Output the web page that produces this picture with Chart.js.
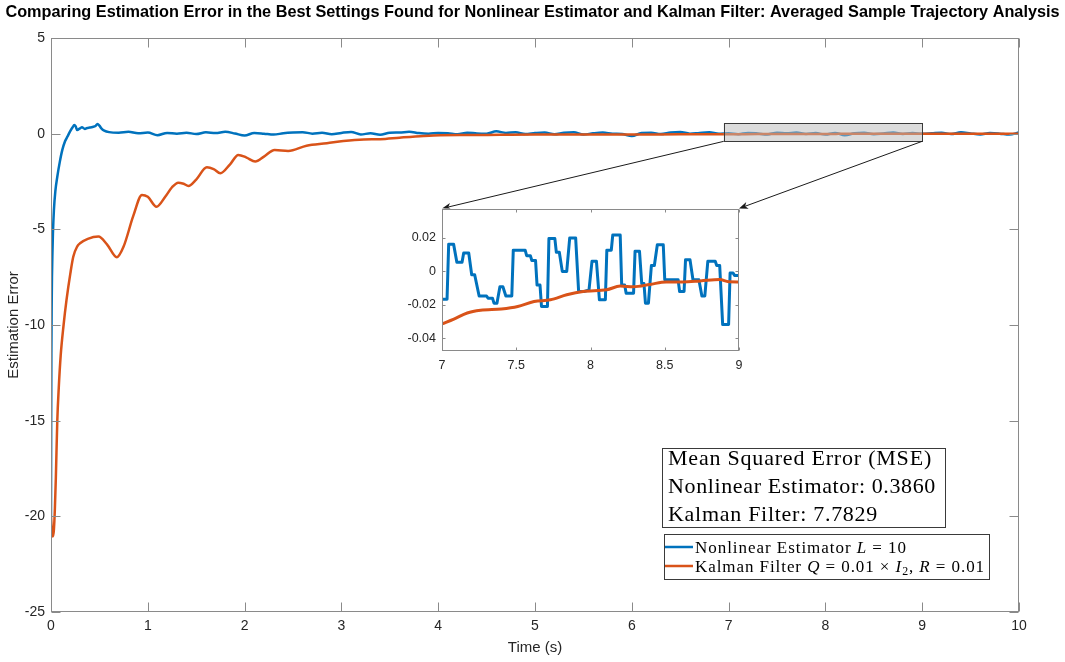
<!DOCTYPE html>
<html><head><meta charset="utf-8">
<script src="https://cdn.jsdelivr.net/npm/chart.js@4/dist/chart.umd.min.js"></script>
<style>
html,body{margin:0;padding:0;background:#fff;}
#wrap{position:relative;width:1065px;height:662px;overflow:hidden;}
#main{position:absolute;left:0;top:0;}
#inset{position:absolute;left:395px;top:195px;}
</style></head><body>
<div id="wrap"><canvas id="main" width="1065" height="662"></canvas><canvas id="inset" width="355" height="185"></canvas></div>
<script>
// ---------------- data ----------------
const TITLE = 'Comparing Estimation Error in the Best Settings Found for Nonlinear Estimator and Kalman Filter: Averaged Sample Trajectory Analysis';
const xTickValues = [0,1,2,3,4,5,6,7,8,9,10];
const xTickLabels = ['0','1','2','3','4','5','6','7','8','9','10'];
const yTickValues = [5,0,-5,-10,-15,-20,-25];
const yTickLabels = ['5','0','-5','-10','-15','-20','-25'];
const insetXTickValues = [7,7.5,8,8.5,9];
const insetXTickLabels = ['7','7.5','8','8.5','9'];
const insetYTickValues = [0.02,0,-0.02,-0.04];
const insetYTickLabels = ['0.02','0','-0.02','-0.04'];

// Nonlinear estimator (blue), transient part
const blueHeadT = [0,0.002,0.004,0.007,0.01,0.015,0.02,0.03,0.045,0.065,0.09,0.117,0.145,0.17,0.2,0.225,0.24,0.255,0.27,0.3,0.32,0.35,0.375,0.4,0.43,0.46,0.48,0.5,0.52,0.55];
const blueHead  = [-20,-15,-11.5,-9,-7.5,-6.2,-5.2,-4.0,-3.0,-2.25,-1.5,-0.85,-0.4,-0.15,0.15,0.35,0.45,0.38,0.19,0.28,0.33,0.25,0.3,0.32,0.35,0.4,0.5,0.42,0.28,0.16];
// Nonlinear estimator (blue), steady part sampled every 0.1 s from 0.6 s
const blueTail = [
 0.08,0.05,0.10,0.02,0.06,-0.08,0.04,0.00,0.05,-0.02,
 0.07,0.03,0.10,0.01,-0.10,0.04,0.00,-0.05,0.02,0.06,
 0.08,0.00,0.05,-0.03,0.04,0.09,-0.04,0.02,-0.06,0.05,
 0.06,0.10,0.03,0.00,0.04,0.02,-0.03,0.05,0.01,0.00,
 0.12,0.04,0.07,-0.02,0.03,0.06,-0.03,0.05,0.08,-0.05,
 0.02,0.06,0.00,-0.02,-0.12,0.03,0.05,-0.02,0.06,0.09,
 0.00,0.04,0.07,0.00,0.02,-0.03,0.04,0.01,-0.04,0.05,
 0.02,0.06,-0.02,0.03,-0.05,0.04,-0.08,0.02,0.05,-0.03,
 0.01,0.06,-0.02,0.03,-0.01,0.02,0.05,-0.02,0.07,0.01,
 -0.04,0.03,0.00,-0.05,0.06];
const blueTailStart = 0.6, blueTailStep = 0.1;

// Kalman filter (orange)
const kalmanT = [0,0.01,0.02,0.03,0.04,0.05,0.065,0.08,0.1,0.13,0.16,0.2,0.23,0.27,0.3,0.38,0.49,0.58,0.68,0.75,0.85,0.94,1.0,1.09,1.18,1.25,1.315,1.37,1.42,1.5,1.61,1.68,1.75,1.85,1.935,2.02,2.11,2.2,2.31,2.45,2.64,2.85,3.02,3.23,3.4,3.6,3.85,4.02,4.3,4.64,5,5.5,6,6.5,7,7.17,7.4,7.62,7.84,8.11,8.4,8.62,8.87,9,9.5,10];
const kalmanErr = [-20,-20.8,-21.05,-20.7,-19.6,-18,-15,-13.3,-11.6,-10,-8.7,-7.3,-6.43,-5.9,-5.73,-5.5,-5.38,-5.8,-6.46,-5.9,-4.3,-3.2,-3.3,-3.82,-3.3,-2.8,-2.56,-2.62,-2.73,-2.4,-1.76,-1.85,-2.07,-1.6,-1.11,-1.25,-1.46,-1.2,-0.85,-0.9,-0.63,-0.5,-0.38,-0.3,-0.29,-0.21,-0.12,-0.08,-0.07,-0.06,-0.05,-0.045,-0.04,-0.035,-0.031,-0.025,-0.0225,-0.018,-0.014,-0.011,-0.0078,-0.0063,-0.0049,-0.0063,-0.004,-0.003];

// Inset (7 s to 9 s)
const insetBlueT = [7.000,7.034,7.045,7.078,7.100,7.135,7.146,7.180,7.200,7.220,7.250,7.300,7.310,7.340,7.350,7.370,7.390,7.410,7.430,7.470,7.480,7.560,7.570,7.595,7.605,7.630,7.640,7.660,7.670,7.710,7.720,7.760,7.770,7.790,7.810,7.840,7.860,7.900,7.920,7.960,7.990,8.010,8.040,8.060,8.100,8.110,8.140,8.150,8.200,8.210,8.230,8.240,8.290,8.300,8.330,8.345,8.360,8.370,8.390,8.410,8.430,8.450,8.490,8.500,8.590,8.600,8.630,8.640,8.670,8.690,8.730,8.750,8.770,8.790,8.840,8.850,8.870,8.890,8.930,8.940,8.960,8.970,9.000];
const insetBlue  = [-0.0167,-0.0167,0.0163,0.0163,0.0055,0.0055,0.0110,0.0110,-0.0020,-0.0020,-0.0147,-0.0147,-0.0160,-0.0160,-0.0190,-0.0190,-0.0092,-0.0092,-0.0147,-0.0147,0.0127,0.0127,0.0094,0.0094,0.0065,0.0065,-0.0082,-0.0082,-0.0210,-0.0210,0.0196,0.0196,0.0114,0.0114,0.0000,0.0000,0.0200,0.0200,-0.0120,-0.0120,-0.0110,0.0060,0.0060,-0.0170,-0.0170,0.0127,0.0127,0.0218,0.0218,-0.0082,-0.0082,-0.0130,-0.0130,0.0120,0.0120,-0.0073,-0.0073,-0.0190,-0.0190,0.0035,0.0035,0.0159,0.0159,-0.0050,-0.0050,-0.0120,-0.0120,0.0070,0.0070,-0.0050,-0.0050,-0.0147,-0.0147,0.0060,0.0060,0.0035,0.0035,-0.0318,-0.0318,-0.0010,-0.0010,-0.0024,-0.0024];
const insetKalmanT = [7.0,7.08,7.17,7.26,7.40,7.51,7.62,7.73,7.84,7.95,8.11,8.2,8.29,8.40,8.51,8.62,8.74,8.87,8.93,9.0];
const insetKalman  = [-0.0314,-0.0285,-0.0249,-0.0233,-0.0225,-0.021,-0.018,-0.017,-0.014,-0.012,-0.011,-0.0088,-0.0092,-0.0078,-0.0063,-0.0063,-0.0057,-0.0049,-0.0062,-0.0063];

const mseTitle = 'Mean Squared Error (MSE)';
const mseNames = ['Nonlinear Estimator', 'Kalman Filter'];
const mseValues = ['0.3860', '7.7829'];

// ---------------- style ----------------
const SANS = '"Liberation Sans", Arial, Helvetica, sans-serif';
const SERIF = '"Liberation Serif", "Times New Roman", serif';
const BLUE = '#0072BD', ORANGE = '#D95319';
const AXIS_COLOR = '#8a8a8a', TEXT_COLOR = '#262626';
const zoomBox = {x0: 6.95, x1: 9, yLow: -0.4, yHigh: 0.55};

function fitSize(text, weight, family, target, base) {
  const c = document.createElement('canvas').getContext('2d');
  c.font = weight + ' ' + base + 'px ' + family;
  return base * target / c.measureText(text).width;
}
const titleSize = fitSize(TITLE, 'bold', SANS, 1055, 15);

const pts = (xs, ys) => xs.map((t, i) => ({x: t, y: ys[i]}));
const blueAllT = blueHeadT.concat(blueTail.map((_, i) => Math.round((blueTailStart + blueTailStep * i) * 100) / 100));
const blueAll = blueHead.concat(blueTail);

function segFont(s, size) {
  return (s.it ? 'italic ' : '') + (s.sub ? size * 0.7 : size) + 'px ' + SERIF;
}
function drawRich(ctx, segs, x, yBase, size, target) {
  ctx.letterSpacing = '0px';
  let w0 = 0, n = 0;
  for (const s of segs) { ctx.font = segFont(s, size); w0 += ctx.measureText(s.t).width; n += s.t.length; }
  const ls = target ? (target - w0) / n : 0;
  let cx = x;
  ctx.textBaseline = 'alphabetic'; ctx.textAlign = 'left';
  for (const s of segs) {
    ctx.font = segFont(s, size);
    ctx.letterSpacing = '0px';
    const w = ctx.measureText(s.t).width;
    ctx.letterSpacing = ls + 'px';
    ctx.fillText(s.t, cx, yBase + (s.sub ? size * 0.22 : 0));
    cx += w + ls * s.t.length;
  }
  ctx.letterSpacing = '0px';
}
function drawArrow(ctx, x0, y0, x1, y1) {
  const a = Math.atan2(y1 - y0, x1 - x0), c = Math.cos(a), s = Math.sin(a);
  const L = 9, W = 3.5, N = 6.5;
  ctx.strokeStyle = '#1a1a1a'; ctx.fillStyle = '#1a1a1a'; ctx.lineWidth = 1;
  ctx.beginPath(); ctx.moveTo(x0, y0); ctx.lineTo(x1 - N * c, y1 - N * s); ctx.stroke();
  ctx.beginPath();
  ctx.moveTo(x1, y1);
  ctx.lineTo(x1 - L * c + W * s, y1 - L * s - W * c);
  ctx.lineTo(x1 - N * c, y1 - N * s);
  ctx.lineTo(x1 - L * c - W * s, y1 - L * s + W * c);
  ctx.closePath(); ctx.fill();
}
function drawFrame(chart, tickLen, xVals, yVals) {
  const {ctx, chartArea: a, scales: {x, y}} = chart;
  ctx.save();
  ctx.strokeStyle = AXIS_COLOR; ctx.lineWidth = 1;
  const L = Math.round(a.left) + 0.5, R = Math.round(a.right) - 0.5, T = Math.round(a.top) + 0.5, B = Math.round(a.bottom) - 0.5;
  ctx.strokeRect(L, T, R - L, B - T);
  ctx.beginPath();
  for (const v of xVals) {
    const px = Math.round(x.getPixelForValue(v)) + 0.5;
    ctx.moveTo(px, B); ctx.lineTo(px, B - tickLen);
    ctx.moveTo(px, T); ctx.lineTo(px, T + tickLen);
  }
  for (const v of yVals) {
    const py = Math.round(y.getPixelForValue(v)) + 0.5;
    ctx.moveTo(L, py); ctx.lineTo(L + tickLen, py);
    ctx.moveTo(R, py); ctx.lineTo(R - tickLen, py);
  }
  ctx.stroke();
  ctx.restore();
}

Chart.defaults.font.family = SANS;
Chart.defaults.color = TEXT_COLOR;

// ---------------- inset chart ----------------
const insetCanvas = document.getElementById('inset');
const insetDecor = {
  id: 'insetDecor',
  beforeDatasetsDraw(chart) {
    const {ctx, chartArea: a} = chart;
    ctx.save(); ctx.fillStyle = '#fff'; ctx.fillRect(a.left, a.top, a.right - a.left, a.bottom - a.top); ctx.restore();
  },
  afterDraw(chart) { drawFrame(chart, 3, insetXTickValues, insetYTickValues); }
};
const insetChart = new Chart(insetCanvas, {
  type: 'line',
  data: {datasets: [
    {label: 'Kalman Filter', data: pts(insetKalmanT, insetKalman), borderColor: ORANGE, borderWidth: 3, pointRadius: 0, cubicInterpolationMode: 'monotone', order: 0},
    {label: 'Nonlinear Estimator', data: pts(insetBlueT, insetBlue), borderColor: BLUE, borderWidth: 3, pointRadius: 0, tension: 0, borderJoinStyle: 'round', order: 1}
  ]},
  options: {
    responsive: false, animation: false, events: [],
    layout: {padding: {left: 0, top: 12, right: 11, bottom: 0}},
    plugins: {legend: {display: false}, tooltip: {enabled: false}, title: {display: false}},
    scales: {
      x: {type: 'linear', min: 7, max: 9,
          afterBuildTicks: s => { s.ticks = insetXTickValues.map(v => ({value: v})); },
          ticks: {font: {size: 12.5}, color: TEXT_COLOR, padding: 7, maxRotation: 0, autoSkip: false,
                  callback: v => insetXTickLabels[insetXTickValues.indexOf(v)]},
          grid: {display: false, drawTicks: false}, border: {display: false},
          afterFit: s => { s.height = 29; }},
      y: {type: 'linear', min: -0.0476, max: 0.0376,
          afterBuildTicks: s => { s.ticks = insetYTickValues.map(v => ({value: v})); },
          ticks: {font: {size: 12.5}, color: TEXT_COLOR, padding: 6, autoSkip: false,
                  callback: v => insetYTickLabels[insetYTickValues.indexOf(v)]},
          grid: {display: false, drawTicks: false}, border: {display: false},
          afterFit: s => { s.width = 47; }}
    }
  },
  plugins: [insetDecor]
});

// ---------------- main chart ----------------
const mainDecor = {
  id: 'mainDecor',
  afterDatasetsDraw(chart) {
    const {ctx, scales: {x, y}} = chart;
    const rx0 = x.getPixelForValue(zoomBox.x0), rx1 = x.getPixelForValue(zoomBox.x1);
    const ry0 = y.getPixelForValue(zoomBox.yHigh), ry1 = y.getPixelForValue(zoomBox.yLow);
    ctx.save();
    ctx.fillStyle = 'rgba(185,185,185,0.5)';
    ctx.fillRect(rx0, ry0, rx1 - rx0, ry1 - ry0);
    ctx.strokeStyle = '#3a3a3a'; ctx.lineWidth = 1;
    ctx.strokeRect(Math.round(rx0) + 0.5, Math.round(ry0) + 0.5, Math.round(rx1 - rx0), Math.round(ry1 - ry0));
    const ia = insetChart.chartArea, ox = insetCanvas.offsetLeft, oy = insetCanvas.offsetTop;
    drawArrow(ctx, rx0, ry1, ox + ia.left, oy + ia.top);
    drawArrow(ctx, rx1, ry1, ox + ia.right, oy + ia.top);
    ctx.restore();
  },
  afterDraw(chart) {
    const ctx = chart.ctx;
    drawFrame(chart, 9, xTickValues, yTickValues);
    ctx.save();
    // MSE annotation box
    ctx.fillStyle = '#fff'; ctx.strokeStyle = '#3a3a3a'; ctx.lineWidth = 1;
    ctx.fillRect(662, 448, 283, 79); ctx.strokeRect(662.5, 448.5, 283, 79);
    ctx.fillStyle = '#000';
    drawRich(ctx, [{t: mseTitle}], 668, 465, 22, 264);
    drawRich(ctx, [{t: mseNames[0] + ': ' + mseValues[0]}], 668, 493, 22, 268);
    drawRich(ctx, [{t: mseNames[1] + ': ' + mseValues[1]}], 668, 520.5, 22, 210);
    // legend
    ctx.fillStyle = '#fff';
    ctx.fillRect(664, 534, 325, 45); ctx.strokeRect(664.5, 534.5, 325, 45);
    ctx.lineWidth = 2.5;
    ctx.strokeStyle = BLUE; ctx.beginPath(); ctx.moveTo(665, 547); ctx.lineTo(693, 547); ctx.stroke();
    ctx.strokeStyle = ORANGE; ctx.beginPath(); ctx.moveTo(665, 566); ctx.lineTo(693, 566); ctx.stroke();
    ctx.fillStyle = '#000';
    drawRich(ctx, [{t: 'Nonlinear Estimator '}, {t: 'L', it: true}, {t: ' = 10'}], 695, 552.5, 17, 212);
    drawRich(ctx, [{t: 'Kalman Filter '}, {t: 'Q', it: true}, {t: ' = 0.01 × '}, {t: 'I', it: true}, {t: '2', sub: true},
                   {t: ', '}, {t: 'R', it: true}, {t: ' = 0.01'}], 695, 571.5, 17, 290);
    ctx.restore();
  }
};

const mainChart = new Chart(document.getElementById('main'), {
  type: 'line',
  data: {datasets: [
    {label: 'Kalman Filter Q = 0.01 × I2, R = 0.01', data: pts(kalmanT, kalmanErr), borderColor: ORANGE, borderWidth: 2.5, pointRadius: 0, cubicInterpolationMode: 'monotone', order: 0},
    {label: 'Nonlinear Estimator L = 10', data: pts(blueAllT, blueAll), borderColor: BLUE, borderWidth: 2.5, pointRadius: 0, cubicInterpolationMode: 'monotone', order: 1}
  ]},
  options: {
    responsive: false, animation: false, events: [],
    layout: {padding: {left: 0, right: 0, top: 0, bottom: 0}},
    plugins: {
      legend: {display: false}, tooltip: {enabled: false},
      title: {display: true, text: TITLE, color: '#000', font: {size: titleSize, weight: 'bold', family: SANS},
              padding: {top: 3, bottom: 38 - 3 - titleSize * 1.2}}
    },
    scales: {
      x: {type: 'linear', min: 0, max: 10,
          afterBuildTicks: s => { s.ticks = xTickValues.map(v => ({value: v})); },
          ticks: {font: {size: 14}, color: TEXT_COLOR, padding: 6, maxRotation: 0, autoSkip: false,
                  callback: v => xTickLabels[xTickValues.indexOf(v)]},
          grid: {display: false, drawTicks: false}, border: {display: false},
          title: {display: true, text: 'Time (s)', color: TEXT_COLOR, font: {size: 15}, padding: {top: 0, bottom: 5}},
          afterFit: s => { s.height = 50; }},
      y: {type: 'linear', min: -25, max: 5,
          afterBuildTicks: s => { s.ticks = yTickValues.map(v => ({value: v})); },
          ticks: {font: {size: 14}, color: TEXT_COLOR, padding: 6, autoSkip: false,
                  callback: v => yTickLabels[yTickValues.indexOf(v)]},
          grid: {display: false, drawTicks: false}, border: {display: false},
          title: {display: true, text: 'Estimation Error', color: TEXT_COLOR, font: {size: 15}, padding: {top: 5, bottom: 0}},
          afterFit: s => { s.width = 51; }},
      yR: {type: 'linear', position: 'right', min: -25, max: 5, display: true,
           ticks: {display: false}, grid: {display: false, drawTicks: false}, border: {display: false},
           afterFit: s => { s.width = 46; }}
    }
  },
  plugins: [mainDecor]
});
</script>
</body></html>
